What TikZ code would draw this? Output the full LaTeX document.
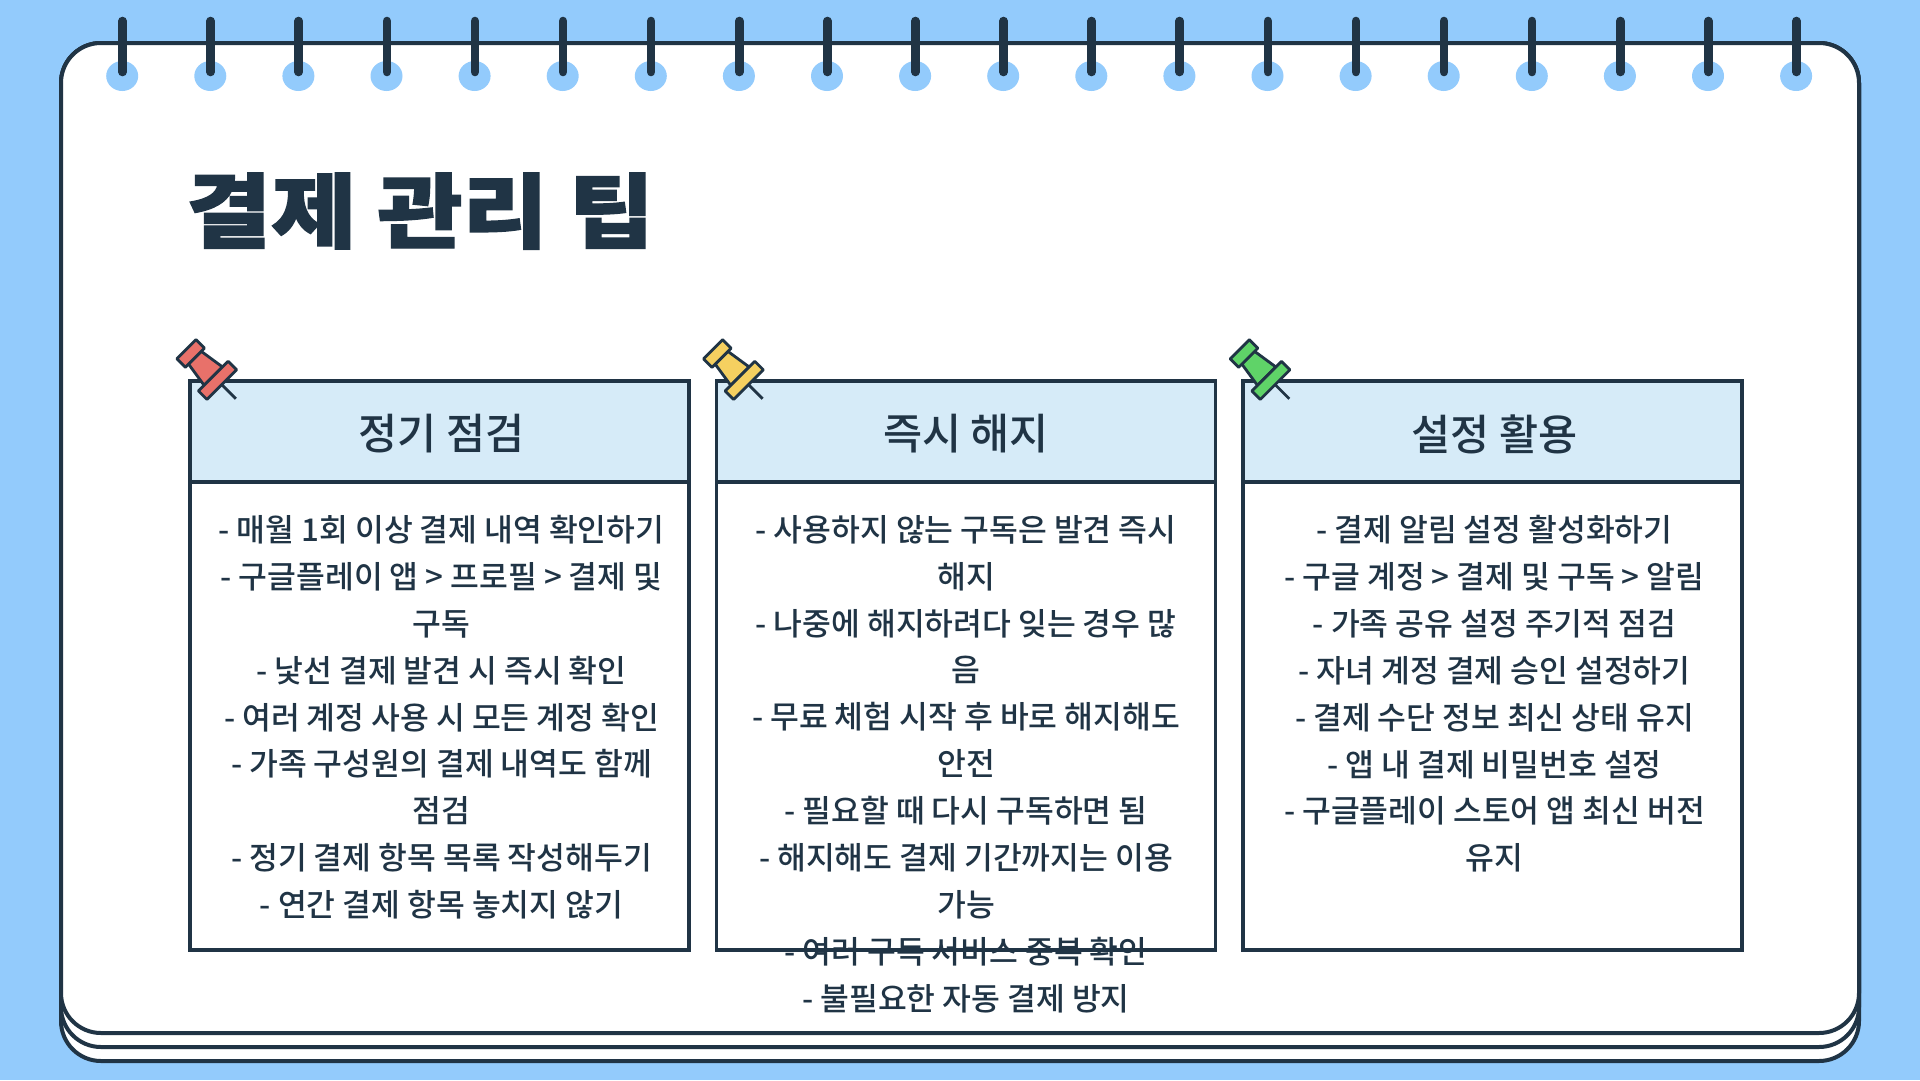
\documentclass[tikz,border=0pt]{standalone}
\usepackage{fontspec}
\setmainfont{Noto Sans CJK KR Medium}
\newfontfamily\titlefont[FakeBold=1.6]{Noto Sans CJK KR Black}
\definecolor{skyback}{HTML}{93CBFC}
\definecolor{inkdark}{HTML}{203445}
\definecolor{headblue}{HTML}{D6EBF8}
\definecolor{pinred}{HTML}{E8716A}
\definecolor{pinyellow}{HTML}{F5D060}
\definecolor{pingreen}{HTML}{5FD368}
\tikzstyle{sheet}=[draw=inkdark,fill=white,line width=4pt,rounded corners=40pt]
\tikzstyle{ring}=[draw=inkdark,line width=8.6pt,line cap=round]
\tikzstyle{cardhead}=[rectangle,draw=inkdark,fill=headblue,line width=3.5pt,minimum width=499pt,minimum height=101pt,inner sep=0pt,outer sep=0pt]
\tikzstyle{cardtitle}=[inner sep=0pt,text=inkdark,font=\fontsize{42.5}{48}\selectfont]
\tikzstyle{cardbody}=[rectangle,draw=inkdark,fill=white,line width=3.5pt,minimum width=499pt,minimum height=468pt,inner sep=0pt,outer sep=0pt]
\tikzstyle{cardtext}=[anchor=north,inner sep=0pt,align=center,text=inkdark,font=\fontsize{31.3}{46.9}\selectfont]
\tikzstyle{pinline}=[draw=inkdark,line width=2.8pt,line join=round]

\begin{document}
\begin{tikzpicture}[x=1pt,y=-1pt]

    \fill[skyback] (0,0) rectangle (1920,1080);
    \useasboundingbox (0,0) rectangle (1920,1080);

    % sheets of the pad
    \foreach \bottom in {1061,1047,1033}
        \path[sheet] (61,43) rectangle (1859,\bottom);

    % holes and rings
    \foreach \i in {0,...,19} {
        \fill[skyback] (122.2+88.1*\i,76) ellipse [x radius=16, y radius=15];
        \draw[ring] (122.5+88.1*\i,21) -- (122.5+88.1*\i,72);
    }

    \node[anchor=west,inner sep=0pt,text=inkdark,font=\titlefont\fontsize{92.5}{100}\selectfont] (title) at (186,211) {\scalebox{1}[0.88]{결제 관리 팁}};

    % cards
    \foreach \x/\tx/\name/\head/\lines in {
        439.7/441.5/a/{정기 점검}/{- 매월 1회 이상 결제 내역 확인하기\\- 구글플레이 앱 > 프로필 > 결제 및\\구독\\- 낯선 결제 발견 시 즉시 확인\\- 여러 계정 사용 시 모든 계정 확인\\- 가족 구성원의 결제 내역도 함께\\점검\\- 정기 결제 항목 목록 작성해두기\\- 연간 결제 항목 놓치지 않기},
        966/966/b/{즉시 해지}/{- 사용하지 않는 구독은 발견 즉시\\해지\\- 나중에 해지하려다 잊는 경우 많\\음\\- 무료 체험 시작 후 바로 해지해도\\안전\\- 필요할 때 다시 구독하면 됨\\- 해지해도 결제 기간까지는 이용\\가능\\- 여러 구독 서비스 중복 확인\\- 불필요한 자동 결제 방지},
        1492.5/1494.5/c/{설정 활용}/{- 결제 알림 설정 활성화하기\\- 구글 계정 > 결제 및 구독 > 알림\\- 가족 공유 설정 주기적 점검\\- 자녀 계정 결제 승인 설정하기\\- 결제 수단 정보 최신 상태 유지\\- 앱 내 결제 비밀번호 설정\\- 구글플레이 스토어 앱 최신 버전\\유지}} {
        \node[cardbody] (body\name) at (\x,716) {};
        \node[cardhead] (head\name) at (\x,431.5) {};
        \node[cardtitle] (title\name) at (\tx,434) {\head};
        \node[cardtext] (text\name) at (\tx,515) {\lines};
    }

    % pins
    \foreach \x/\col in {0/pinred,526.6/pinyellow,1053.3/pingreen} {
        \begin{scope}[shift={(190.7+\x,353.5)},rotate=-45]
            \draw[pinline] (44,0) -- (64,0);
            \path[pinline,fill=\col] (6,-9) -- (32,-13) -- (32,13) -- (6,9) -- cycle;
            \path[pinline,fill=\col] (-6,-13.5) rectangle (6,13.5);
            \path[pinline,fill=\col] (32,-21) rectangle (44,21);
        \end{scope}
    }

\end{tikzpicture}
\end{document}
